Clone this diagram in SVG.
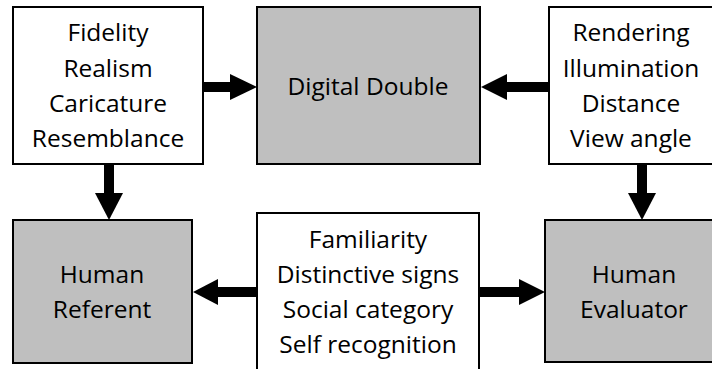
<svg xmlns="http://www.w3.org/2000/svg" width="712" height="369" viewBox="0 0 712 369">
<defs>
<style>
.box{stroke:#000;stroke-width:2}
.w{fill:#fff}
.g{fill:#bfbfbf}
text{font-family:"Open Sans","Liberation Sans",Arial,sans-serif;font-size:24.5px;fill:#000;text-anchor:middle}
.sh{stroke:#000;stroke-width:10;fill:none}
.hd{fill:#000}
</style>
</defs>
<rect width="712" height="369" fill="#fff"/>
<g id="connectors">
<line class="sh" x1="203" y1="87" x2="231" y2="87"/>
<polygon class="hd" points="230,74 257,87 230,100"/>
<line class="sh" x1="549" y1="87" x2="506" y2="87"/>
<polygon class="hd" points="507,74 481,87 507,100"/>
<line class="sh" x1="109" y1="164" x2="109" y2="194"/>
<polygon class="hd" points="95,193 123,193 109,220"/>
<line class="sh" x1="642" y1="164" x2="642" y2="194"/>
<polygon class="hd" points="628,193 656,193 642,220"/>
<line class="sh" x1="257" y1="292" x2="217" y2="292"/>
<polygon class="hd" points="218,279 193,292 218,305"/>
<line class="sh" x1="480" y1="292" x2="520" y2="292"/>
<polygon class="hd" points="519,279 545,292 519,305"/>
</g>
<g id="fidelity">
<rect class="box w" x="13" y="7" width="190" height="157"/>
<text x="108" y="41">Fidelity</text>
<text x="108" y="77">Realism</text>
<text x="108" y="112">Caricature</text>
<text x="108" y="147">Resemblance</text>
</g>
<g id="digital-double">
<rect class="box g" x="257" y="7" width="223" height="157"/>
<text x="368" y="95">Digital Double</text>
</g>
<g id="rendering">
<rect class="box w" x="549" y="7" width="170" height="157"/>
<text x="631" y="41">Rendering</text>
<text x="631" y="77">Illumination</text>
<text x="631" y="112">Distance</text>
<text x="631" y="147">View angle</text>
</g>
<g id="human-referent">
<rect class="box g" x="13" y="220" width="179" height="143"/>
<text x="102" y="283">Human</text>
<text x="102" y="318">Referent</text>
</g>
<g id="familiarity">
<rect class="box w" x="257" y="213" width="222" height="170"/>
<text x="368" y="248">Familiarity</text>
<text x="368" y="283">Distinctive signs</text>
<text x="368" y="318">Social category</text>
<text x="368" y="353">Self recognition</text>
</g>
<g id="human-evaluator">
<rect class="box g" x="545" y="220" width="175" height="142"/>
<text x="634" y="283">Human</text>
<text x="634" y="318">Evaluator</text>
</g>
</svg>
